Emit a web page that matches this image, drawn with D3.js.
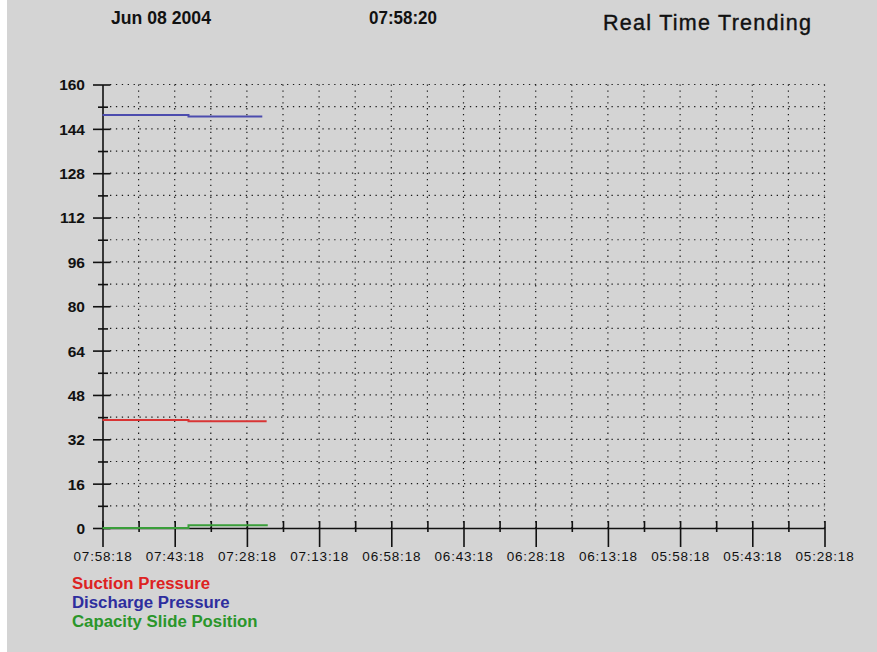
<!DOCTYPE html>
<html>
<head>
<meta charset="utf-8">
<script src="https://cdn.jsdelivr.net/npm/d3@7"></script>
<style>
  body { margin: 0; background: #d4d4d4; }
  svg { display: block; }
  .hdr { font-family: "Liberation Sans", Arial, sans-serif; font-weight: bold; font-size: 19px; fill: #111; }
  .title { font-family: "Liberation Sans", Arial, sans-serif; font-size: 21.5px; fill: #111; stroke: #111; stroke-width: 0.4px; }
  .legend { font-family: "Liberation Sans", Arial, sans-serif; font-weight: bold; font-size: 16.8px; }
</style>
</head>
<body>
<svg id="chart" width="877" height="652"></svg>
<script>
// header texts
var headerDate = "Jun 08 2004";
var headerTime = "07:58:20";
var headerTitle = "Real Time Trending";

// x tick labels (time runs backwards from now)
var xTickLabels = ["07:58:18","07:43:18","07:28:18","07:13:18","06:58:18","06:43:18",
                   "06:28:18","06:13:18","05:58:18","05:43:18","05:28:18"];
var yTickLabels = [0, 16, 32, 48, 64, 80, 96, 112, 128, 144, 160];

// series (sample time, value), step after
var seriesNames  = ["Suction Pressure", "Discharge Pressure", "Capacity Slide Position"];
var seriesColors = ["#d83434", "#4c4cae", "#3a9e3a"];
var legendColors = ["#dd2222", "#2e2e9e", "#2a962a"];
var suctionTimes   = ["07:58:18", "07:40:26", "07:24:12"];
var suctionValues  = [39.0, 38.5, 38.5];
var dischargeTimes  = ["07:58:18", "07:40:26", "07:25:06"];
var dischargeValues = [149.0, 148.5, 148.5];
var capacityTimes  = ["07:58:18", "07:40:26", "07:23:58"];
var capacityValues = [0, 1.0, 1.0];

var parseT = d3.timeParse("%H:%M:%S");

var series = [
  {name: seriesNames[0], times: suctionTimes, values: suctionValues},
  {name: seriesNames[1], times: dischargeTimes, values: dischargeValues},
  {name: seriesNames[2], times: capacityTimes, values: capacityValues}
];

var svg = d3.select("#chart");

// white strip on the left edge of the screenshot
svg.append("rect").attr("x", 0).attr("y", 0).attr("width", 7).attr("height", 652).attr("fill", "#fff");

var tStart = parseT(xTickLabels[0]);
var tEnd = parseT(xTickLabels[xTickLabels.length - 1]);

var x = d3.scaleTime().domain([tStart, tEnd]).range([102.5, 824.5]);
var y = d3.scaleLinear().domain([0, 160]).range([528, 84.5]);

var xMajor = xTickLabels.map(parseT);
var xMinor = d3.range(0, xMajor.length - 1).map(function(i) { return d3.timeSecond.offset(xMajor[i], -450); });
var yMinor = d3.range(8, 160, 16);

// grid
var grid = svg.append("g").attr("stroke", "#1a1a1a").attr("stroke-width", 1.2)
  .attr("stroke-dasharray", "1.3,4.6");

grid.selectAll("line.h").data(d3.range(8, 161, 8)).enter().append("line")
  .attr("class", "h")
  .attr("x1", 110).attr("x2", x(tEnd))
  .attr("y1", function(d) { return y(d); }).attr("y2", function(d) { return y(d); });

grid.selectAll("line.v").data(xMajor.slice(1).concat(xMinor)).enter().append("line")
  .attr("class", "v")
  .attr("x1", function(d) { return x(d); }).attr("x2", function(d) { return x(d); })
  .attr("y1", y(160)).attr("y2", y(0));

// y axis
var gy = svg.append("g").attr("transform", "translate(" + x(tStart) + ",0)")
  .call(d3.axisLeft(y).tickValues(yTickLabels).tickSize(9.5).tickSizeOuter(0).tickPadding(8));
gy.attr("font-family", "'Liberation Sans', Arial, sans-serif").attr("font-size", 15.5).attr("font-weight", "bold");
gy.selectAll(".tick line").attr("x1", 8);
gy.selectAll(".tick text").attr("x", -17.5).attr("dy", "0.35em");

var gy2 = svg.append("g").attr("transform", "translate(" + x(tStart) + ",0)")
  .call(d3.axisLeft(y).tickValues(yMinor).tickSize(4.5).tickSizeOuter(0).tickFormat(""));
gy2.selectAll(".tick line").attr("x1", 5.5);
gy2.select(".domain").remove();

// x axis
var gx = svg.append("g").attr("transform", "translate(0," + y(0) + ")")
  .call(d3.axisBottom(x).tickValues(xMajor).tickSize(19).tickSizeOuter(0)
    .tickFormat(d3.timeFormat("%H:%M:%S")));
gx.attr("font-family", "'Liberation Sans', Arial, sans-serif").attr("font-size", 13.5).attr("letter-spacing", "0.8px");
gx.selectAll(".tick line").attr("y1", -7);
gx.selectAll(".tick text").attr("y", 33).attr("dy", 0);

var gx2 = svg.append("g").attr("transform", "translate(0," + y(0) + ")")
  .call(d3.axisBottom(x).tickValues(xMinor).tickSize(4).tickSizeOuter(0).tickFormat(""));
gx2.selectAll(".tick line").attr("y1", -7);
gx2.select(".domain").remove();

svg.selectAll(".domain").attr("stroke", "#111").attr("stroke-width", 1.6);
svg.selectAll(".tick line").attr("stroke", "#111").attr("stroke-width", 1.6);
svg.selectAll(".tick text").attr("fill", "#111");

// series lines
var line = d3.line()
  .x(function(d) { return x(d.t); })
  .y(function(d) { return y(d.v); })
  .curve(d3.curveStepAfter);

series.forEach(function(s, i) {
  var pts = s.times.map(function(t, j) { return {t: parseT(t), v: s.values[j]}; });
  svg.append("path").datum(pts)
    .attr("fill", "none")
    .attr("stroke", seriesColors[i])
    .attr("stroke-width", 2)
    .attr("d", line);
});

// header
svg.append("text").attr("class", "hdr").attr("x", 111).attr("y", 24)
  .attr("textLength", 100).attr("lengthAdjust", "spacingAndGlyphs").text(headerDate);
svg.append("text").attr("class", "hdr").attr("x", 369).attr("y", 24)
  .attr("textLength", 68).attr("lengthAdjust", "spacingAndGlyphs").text(headerTime);
svg.append("text").attr("class", "title").attr("x", 603).attr("y", 30)
  .attr("textLength", 208).attr("lengthAdjust", "spacing").text(headerTitle);

// legend
svg.selectAll("text.legend").data(seriesNames).enter().append("text")
  .attr("class", "legend")
  .attr("x", 72)
  .attr("y", function(d, i) { return 589 + i * 19; })
  .attr("fill", function(d, i) { return legendColors[i]; })
  .text(function(d) { return d; });
</script>
</body>
</html>
